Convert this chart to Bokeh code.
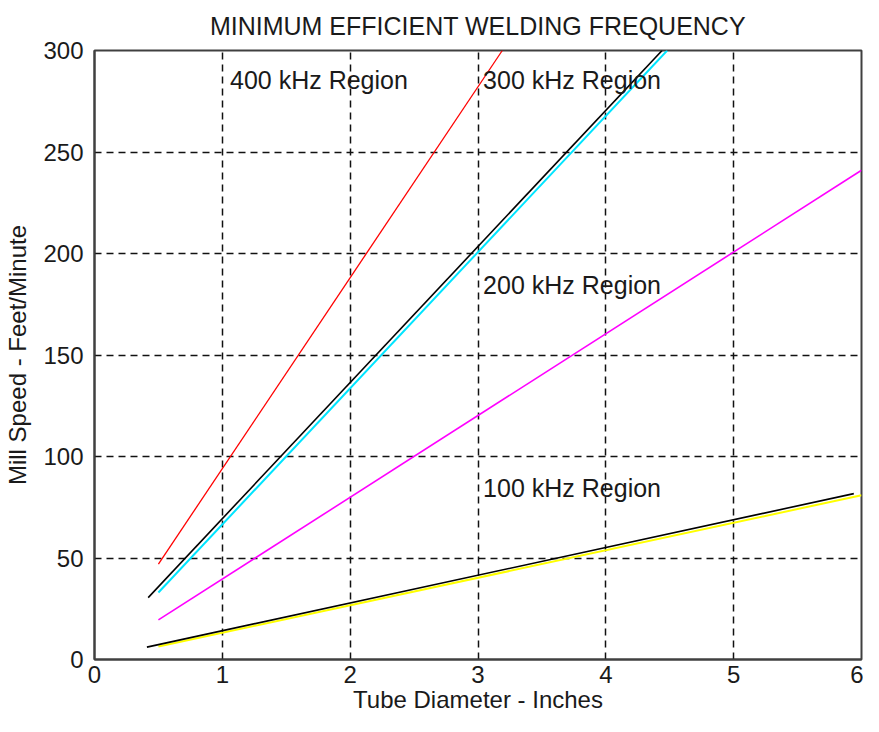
from bokeh.plotting import figure
from bokeh.models import Range1d, FixedTicker, Label
from bokeh.embed import file_html
from bokeh.resources import INLINE

# ---- data ----
red_x = [0.50, 3.19]
red_y = [47.0, 300.0]
cyan_x = [0.50, 4.48]
cyan_y = [33.0, 300.0]
black_hi_x = [0.42, 4.44]
black_hi_y = [30.5, 300.0]
magenta_x = [0.50, 6.00]
magenta_y = [19.5, 241.0]
yellow_x = [0.50, 6.00]
yellow_y = [6.4, 80.9]
black_lo_x = [0.41, 5.94]
black_lo_y = [6.1, 81.7]

x_ticks = [0, 1, 2, 3, 4, 5, 6]
y_ticks = [0, 50, 100, 150, 200, 250, 300]

region_labels = ["400 kHz Region", "300 kHz Region", "200 kHz Region", "100 kHz Region"]
region_x = [1.06, 3.04, 3.04, 3.04]
region_y = [285.5, 285.5, 184.5, 84.4]

title_text = "MINIMUM EFFICIENT WELDING FREQUENCY"
x_label_text = "Tube Diameter - Inches"
y_label_text = "Mill Speed - Feet/Minute"

FONT = "Liberation Sans"
TXT = "#1a1a1a"

p = figure(width=863, height=716, output_backend="svg", toolbar_location=None,
           x_range=Range1d(0, 6), y_range=Range1d(0, 300),
           min_border_left=94, min_border_right=2, min_border_top=50, min_border_bottom=57)

p.title.text = title_text
p.title.align = "center"
p.title.vertical_align = "top"
p.title.text_font = FONT
p.title.text_font_size = "25px"
p.title.text_font_style = "normal"
p.title.text_color = TXT
p.title.standoff = 17

p.background_fill_color = "white"
p.border_fill_color = "white"
p.outline_line_color = "#404040"
p.outline_line_width = 2

for ax, ticks in ((p.xaxis[0], x_ticks), (p.yaxis[0], y_ticks)):
    ax.ticker = FixedTicker(ticks=ticks)
    ax.axis_line_color = "#404040"
    ax.axis_line_width = 2
    ax.major_tick_in = 0
    ax.major_tick_out = 0
    ax.minor_tick_in = 0
    ax.minor_tick_out = 0
    ax.major_label_text_font = FONT
    ax.major_label_text_font_size = "24px"
    ax.major_label_text_color = TXT
    ax.axis_label_text_font = FONT
    ax.axis_label_text_font_size = "24px"
    ax.axis_label_text_font_style = "normal"
    ax.axis_label_text_color = TXT

p.xaxis.axis_label = x_label_text
p.yaxis.axis_label = y_label_text
p.xaxis.major_label_standoff = 6
p.xaxis.axis_label_standoff = 0
p.yaxis.major_label_standoff = 11
p.yaxis.axis_label_standoff = 9

for g in (p.xgrid[0], p.ygrid[0]):
    g.grid_line_color = "#111111"
    g.grid_line_width = 1.5
    g.grid_line_dash = "7 5"

p.line(red_x, red_y, line_color="#ff0000", line_width=1.3)
p.line(cyan_x, cyan_y, line_color="#00e5ff", line_width=2)
p.line(black_hi_x, black_hi_y, line_color="black", line_width=1.6)
p.line(magenta_x, magenta_y, line_color="#ff00ff", line_width=1.6)
p.line(yellow_x, yellow_y, line_color="#ffff00", line_width=2)
p.line(black_lo_x, black_lo_y, line_color="black", line_width=1.6)

for t, x, y in zip(region_labels, region_x, region_y):
    p.add_layout(Label(x=x, y=y, text=t, text_font=FONT, text_font_size="25px",
                       text_color=TXT, text_baseline="middle", text_align="left"))

open("out.html", "w").write(file_html(p, INLINE))
